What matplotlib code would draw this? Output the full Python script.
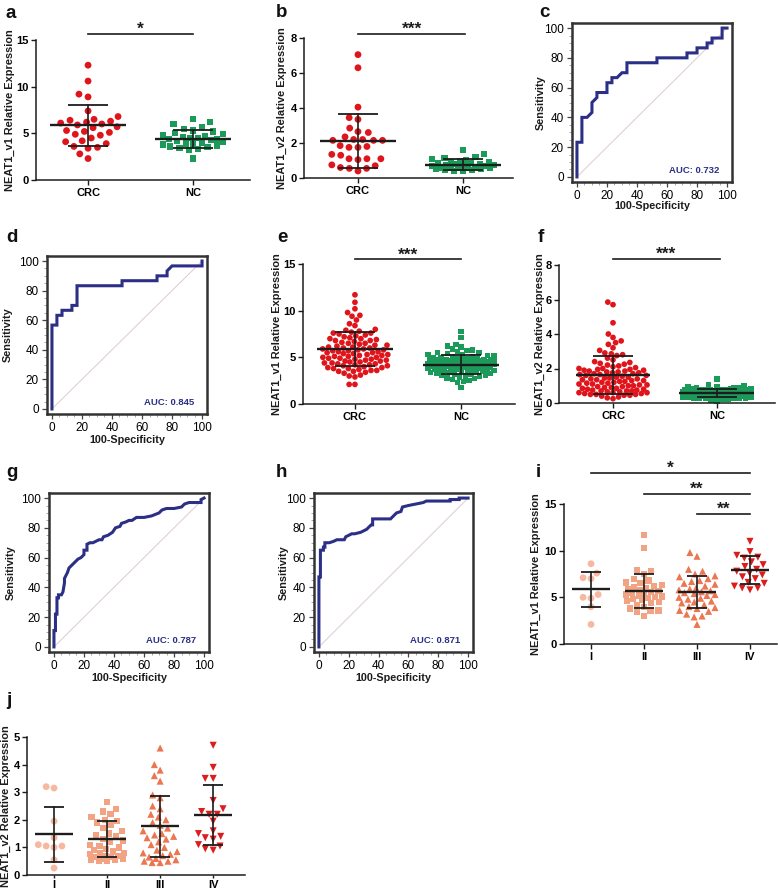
import matplotlib
matplotlib.use('Agg')
import matplotlib.pyplot as plt
import numpy as np
from matplotlib.ticker import MultipleLocator

plt.rcParams['font.family'] = ['Liberation Sans', 'DejaVu Sans']

# ---------------- data ----------------
cats_2 = ['CRC', 'NC']
cats_4 = ['I', 'II', 'III', 'IV']

a_crc = [12.3, 10.6, 9.2, 8.9, 7.4, 6.8, 6.5, 6.4, 6.3, 6.2, 6.1, 6.0, 5.9, 5.7, 5.6,
         5.3, 5.2, 5.1, 4.9, 4.8, 4.5, 4.2, 4.1, 3.9, 3.6, 3.5, 3.4, 2.8, 2.3]
a_nc = [6.5, 6.2, 6.0, 5.7, 5.5, 5.3, 5.2, 5.0, 4.9, 4.8, 4.7, 4.6, 4.5, 4.5, 4.4,
        4.4, 4.3, 4.2, 4.1, 4.0, 3.9, 3.9, 3.8, 3.7, 3.6, 3.5, 3.4, 3.3, 3.2, 2.3]
a_mean = [5.85, 4.42]
a_sd = [2.2, 0.96]

b_crc = [7.05, 6.3, 4.05, 3.45, 3.35, 2.85, 2.65, 2.6, 2.35, 2.2, 2.2, 2.15, 2.15, 2.15,
         1.85, 1.8, 1.75, 1.75, 1.35, 1.3, 1.1, 1.1, 1.1, 1.05, 0.75, 0.7, 0.6, 0.55, 0.55, 0.4]
b_nc = [1.6, 1.35, 1.2, 1.15, 1.1, 1.0, 0.95, 0.9, 0.9, 0.85, 0.85, 0.8, 0.8, 0.75, 0.75,
        0.7, 0.7, 0.7, 0.65, 0.6, 0.6, 0.6, 0.55, 0.55, 0.5, 0.5, 0.45, 0.45, 0.4, 0.4]
b_mean = [2.12, 0.77]
b_sd = [1.55, 0.3]

e_crc = [11.7, 10.9, 10.2, 9.8, 9.5, 9.4, 9.0, 8.6, 8.4, 8.0, 7.9, 7.8, 7.7, 7.6, 7.6,
         7.5, 7.4, 7.3, 7.2, 7.1, 7.0, 7.0, 6.9, 6.8, 6.8, 6.7, 6.6, 6.5, 6.5, 6.4, 6.3,
         6.3, 6.2, 6.1, 6.1, 6.0, 6.0, 5.9, 5.9, 5.8, 5.8, 5.7, 5.7, 5.6, 5.6, 5.5, 5.5,
         5.4, 5.4, 5.3, 5.3, 5.2, 5.2, 5.1, 5.1, 5.0, 5.0, 4.9, 4.9, 4.8, 4.8, 4.7, 4.7,
         4.6, 4.6, 4.5, 4.5, 4.4, 4.4, 4.3, 4.3, 4.2, 4.2, 4.1, 4.1, 4.0, 3.9, 3.9, 3.8,
         3.8, 3.7, 3.6, 3.6, 3.5, 3.5, 3.4, 3.3, 3.1, 3.0, 2.9, 2.1, 2.1]
e_nc = [7.8, 7.1, 6.4, 6.2, 6.1, 5.9, 5.8, 5.7, 5.6, 5.5, 5.5, 5.4, 5.3, 5.3, 5.2, 5.2,
        5.1, 5.1, 5.0, 5.0, 4.9, 4.9, 4.9, 4.8, 4.8, 4.8, 4.7, 4.7, 4.7, 4.6, 4.6, 4.6,
        4.6, 4.5, 4.5, 4.5, 4.5, 4.4, 4.4, 4.4, 4.3, 4.3, 4.3, 4.3, 4.3, 4.2, 4.2, 4.2,
        4.2, 4.1, 4.1, 4.1, 4.1, 4.0, 4.0, 4.0, 4.0, 3.9, 3.9, 3.9, 3.9, 3.8, 3.8, 3.8,
        3.7, 3.7, 3.7, 3.7, 3.6, 3.6, 3.6, 3.6, 3.5, 3.5, 3.5, 3.4, 3.4, 3.3, 3.3, 3.2,
        3.2, 3.1, 3.1, 3.0, 3.0, 2.9, 2.8, 2.7, 2.6, 2.5, 2.4, 2.3, 1.8]
e_mean = [5.87, 4.22]
e_sd = [1.8, 1.05]

f_crc = [5.85, 5.7, 4.65, 4.0, 3.8, 3.6, 3.5, 3.4, 3.2, 3.05, 2.9, 2.85, 2.8, 2.75, 2.6,
         2.5, 2.4, 2.35, 2.3, 2.25, 2.2, 2.15, 2.1, 2.05, 2.0, 2.0, 1.95, 1.95, 1.9, 1.9,
         1.85, 1.85, 1.8, 1.8, 1.75, 1.75, 1.7, 1.7, 1.65, 1.65, 1.6, 1.6, 1.55, 1.5, 1.5,
         1.45, 1.45, 1.4, 1.4, 1.35, 1.35, 1.3, 1.3, 1.25, 1.25, 1.2, 1.2, 1.15, 1.15, 1.1,
         1.1, 1.05, 1.05, 1.0, 1.0, 0.95, 0.95, 0.9, 0.9, 0.85, 0.85, 0.8, 0.8, 0.75, 0.75,
         0.7, 0.7, 0.7, 0.65, 0.65, 0.6, 0.6, 0.6, 0.55, 0.55, 0.5, 0.5, 0.5, 0.45, 0.45,
         0.4, 0.35, 0.3, 0.25]
f_nc = [1.4, 1.05, 1.0, 0.95, 0.92, 0.9, 0.9, 0.88, 0.85, 0.85, 0.82, 0.8, 0.8, 0.8, 0.78,
        0.75, 0.75, 0.75, 0.73, 0.72, 0.7, 0.7, 0.7, 0.7, 0.68, 0.67, 0.66, 0.65, 0.65, 0.65,
        0.65, 0.64, 0.63, 0.62, 0.62, 0.6, 0.6, 0.6, 0.6, 0.6, 0.58, 0.58, 0.57, 0.56, 0.55,
        0.55, 0.55, 0.55, 0.55, 0.53, 0.52, 0.52, 0.5, 0.5, 0.5, 0.5, 0.5, 0.48, 0.48, 0.47,
        0.45, 0.45, 0.45, 0.45, 0.44, 0.43, 0.42, 0.4, 0.4, 0.4, 0.4, 0.38, 0.37, 0.35, 0.35,
        0.35, 0.33, 0.3, 0.3, 0.3, 0.28, 0.25, 0.25, 0.2, 0.2, 0.15, 0.1]
f_mean = [1.64, 0.58]
f_sd = [1.1, 0.22]

i_g1 = [8.6, 7.6, 7.1, 7.0, 5.3, 5.0, 4.9, 4.0, 2.1]
i_g2 = [11.7, 10.3, 7.9, 7.8, 7.5, 7.0, 6.8, 6.6, 6.5, 6.3, 6.2, 6.1, 6.0, 5.9, 5.8, 5.7,
        5.6, 5.5, 5.4, 5.3, 5.2, 5.1, 5.0, 4.9, 4.8, 4.7, 4.6, 4.5, 4.4, 4.2, 4.0, 3.8,
        3.6, 3.5, 3.4, 3.0]
i_g3 = [9.8, 9.4, 8.0, 7.8, 7.5, 7.3, 7.2, 7.0, 6.8, 6.7, 6.5, 6.4, 6.2, 6.0, 5.9, 5.8,
        5.7, 5.6, 5.5, 5.4, 5.3, 5.2, 5.0, 4.9, 4.8, 4.6, 4.5, 4.4, 4.2, 4.0, 3.9, 3.8,
        3.6, 3.5, 3.2, 3.0, 2.9, 2.1]
i_g4 = [11.0, 9.9, 9.5, 9.3, 9.2, 8.8, 8.5, 8.3, 8.0, 7.8, 7.6, 7.4, 7.2, 7.0, 6.6,
        6.5, 6.2, 6.0, 6.0, 5.8]
i_mean = [5.87, 5.69, 5.55, 7.95]
i_sd = [1.88, 1.8, 1.7, 1.47]

j_g1 = [3.2, 3.15, 1.95, 1.35, 1.1, 1.05, 1.05, 1.0, 0.55, 0.25]
j_g2 = [2.65, 2.4, 2.3, 2.2, 2.1, 2.0, 1.95, 1.9, 1.8, 1.7, 1.6, 1.5, 1.45, 1.4, 1.3,
        1.25, 1.2, 1.1, 1.05, 1.0, 0.95, 0.9, 0.85, 0.8, 0.8, 0.75, 0.7, 0.7, 0.65, 0.65,
        0.6, 0.6, 0.55, 0.55, 0.5, 0.5]
j_g3 = [4.6, 4.0, 3.8, 3.6, 3.4, 2.9, 2.8, 2.5, 2.4, 2.2, 2.1, 2.0, 1.9, 1.8, 1.7, 1.6,
        1.5, 1.45, 1.4, 1.35, 1.3, 1.2, 1.1, 1.0, 0.9, 0.85, 0.8, 0.75, 0.7, 0.65, 0.6,
        0.55, 0.5, 0.5, 0.45, 0.45]
j_g4 = [4.7, 3.9, 3.5, 3.5, 2.7, 2.4, 2.3, 2.2, 2.2, 1.95, 1.6, 1.5, 1.4, 1.35, 1.3,
        1.1, 1.05, 0.95, 0.9]
j_mean = [1.48, 1.31, 1.76, 2.17]
j_sd = [1.0, 0.64, 1.12, 1.1]

c_fpr = [0, 0, 3.3, 3.3, 6.7, 10, 10, 13.3, 13.3, 20, 20, 23.3, 23.3, 26.7, 30, 33.3, 33.3,
         53.3, 53.3, 73.3, 73.3, 80, 80, 86.7, 86.7, 90, 90, 96.7, 96.7, 100]
c_tpr = [0, 23.3, 23.3, 40, 40, 43.3, 50, 53.3, 56.7, 56.7, 63.3, 63.3, 66.7, 66.7, 70, 70,
         76.7, 76.7, 80, 80, 83.3, 83.3, 86.7, 86.7, 90, 90, 93.3, 93.3, 100, 100]
d_fpr = [0, 0, 3.3, 3.3, 6.7, 6.7, 13.3, 13.3, 16.7, 16.7, 46.7, 46.7, 70, 70, 76.7, 76.7,
         80, 100, 100]
d_tpr = [0, 56.7, 56.7, 63.3, 63.3, 66.7, 66.7, 70, 70, 83.3, 83.3, 86.7, 86.7, 90, 90,
         93.3, 96.7, 96.7, 100]
g_fpr = [0, 0, 1, 1, 2, 2, 3, 3, 5, 6, 7, 7, 8, 9, 10, 12, 14, 16, 18, 20, 20, 22, 22, 24,
         26, 28, 30, 32, 33, 36, 39, 41, 44, 45, 48, 50, 52, 55, 60, 65, 70, 72, 75, 80,
         85, 87, 90, 98, 98, 100]
g_tpr = [0, 11, 11, 22, 22, 33, 33, 35, 35, 37, 43, 46, 48, 50, 53, 55, 57, 59, 60, 62, 65,
         65, 69, 70, 70, 71, 72, 72, 74, 75, 77, 80, 81, 83, 84, 85, 85, 87, 87, 88, 90,
         92, 93, 93, 94, 96, 97, 97, 99, 100]
h_fpr = [0, 0, 1, 1, 3, 3, 4, 4, 7, 10, 12, 17, 18, 20, 22, 24, 28, 30, 32, 33, 35, 36, 36,
         48, 50, 52, 55, 56, 60, 65, 70, 72, 88, 88, 94, 94, 100]
h_tpr = [0, 47, 47, 65, 65, 67, 67, 70, 70, 71, 72, 72, 74, 75, 76, 76, 77, 78, 79, 80, 82,
         82, 86, 86, 88, 90, 91, 94, 95, 96, 97, 98, 98, 99, 99, 100, 100]
auc_labels = ['AUC: 0.732', 'AUC: 0.845', 'AUC: 0.787', 'AUC: 0.871']

# ---------------- figure ----------------
W, H = 778, 892
fig = plt.figure(figsize=(W / 100, H / 100), dpi=100)


def rect(L, T, R, B):
    return [L / W, 1 - B / H, (R - L) / W, (B - T) / H]


def capped_swarm(vals_px, d, maxw):
    """Beeswarm offsets (pixels) limited to a band of width maxw."""
    vals_px = np.asarray(vals_px, dtype=float)
    half = maxw / 2.0
    grid = np.linspace(-half, half, 41)
    order = np.argsort(vals_px)
    px, py = [], []
    xs = np.zeros(len(vals_px))
    for i in order:
        y = vals_px[i]
        pxa, pya = np.array(px), np.array(py)
        cands = [0.0]
        for xj, yj in zip(px, py):
            dy = abs(y - yj)
            if dy < d:
                dx = np.sqrt(d * d - dy * dy)
                cands += [xj - dx, xj + dx]
        cands = sorted([c for c in cands if abs(c) <= half + 1e-9],
                       key=lambda c: (abs(c), c))
        chosen = None
        for c in cands:
            if len(px) == 0 or np.all((c - pxa) ** 2 + (y - pya) ** 2 >= d * d - 1e-6):
                chosen = c
                break
        if chosen is None:
            mind = np.array([np.min((g - pxa) ** 2 + (y - pya) ** 2) for g in grid])
            score = mind - 1e-3 * np.abs(grid)
            chosen = grid[int(np.argmax(score))]
        xs[i] = chosen
        px.append(chosen)
        py.append(y)
    return xs


INK = '#1c1c1c'


def scatter_panel(box, xlim, ymax, ystep, groups, cats, markers, colors, sizes,
                  means, sds, ylabel, ylab_px, d_px, maxw_px, sigs,
                  xtick_len=3.5, xpad=2):
    L, T, R, B = box
    ax = fig.add_axes(rect(L, T, R, B))
    ax.set_xlim(*xlim)
    ax.set_ylim(0, ymax)
    ppx = (R - L) / (xlim[1] - xlim[0])
    ppy = (B - T) / ymax
    for k, vals in enumerate(groups):
        v = np.array(vals, dtype=float)
        off = capped_swarm(v * ppy, d_px, maxw_px) / ppx
        ax.scatter(k + off, v, marker=markers[k], s=sizes[k], color=colors[k],
                   edgecolors='none', zorder=2, clip_on=False)
        m, s = means[k], sds[k]
        ax.plot([k - 0.36, k + 0.36], [m, m], color=INK, lw=1.7, zorder=3,
                solid_capstyle='butt')
        ax.plot([k, k], [m - s, m + s], color=INK, lw=1.2, zorder=3)
        for yy in (m - s, m + s):
            ax.plot([k - 0.19, k + 0.19], [yy, yy], color=INK, lw=1.3, zorder=3,
                    solid_capstyle='butt')
    for (x0, x1, yv, txt) in sigs:
        ax.plot([x0, x1], [yv, yv], color=INK, lw=1.2, clip_on=False)
        ax.text((x0 + x1) / 2, yv, txt, ha='center', va='baseline', fontsize=12.5,
                fontweight='bold', color=INK)
    for sp in ('top', 'right'):
        ax.spines[sp].set_visible(False)
    for sp in ('left', 'bottom'):
        ax.spines[sp].set_linewidth(1.1)
        ax.spines[sp].set_color(INK)
    ticks = np.arange(0, ymax + 0.001, ystep)
    ax.set_yticks(ticks)
    ax.set_yticklabels([f'{t:g}' for t in ticks])
    ax.set_xticks(range(len(cats)))
    ax.set_xticklabels(cats)
    ax.tick_params(axis='y', direction='out', length=3.5, width=1.0, color=INK,
                   labelsize=8, pad=1.5)
    ax.tick_params(axis='x', direction='out', length=xtick_len, width=1.0, color=INK,
                   labelsize=8, pad=xpad)
    for lab in ax.get_xticklabels() + ax.get_yticklabels():
        lab.set_fontweight('bold')
    ax.set_ylabel(ylabel, fontsize=7.9, fontweight='bold', color=INK)
    ax.yaxis.set_label_coords((ylab_px - L) / (R - L), 0.5)
    return ax


def roc_panel(box, fx, fy, auc, ylab_px, xlab_top_px):
    L, T, R, B = box
    ax = fig.add_axes(rect(L, T, R, B))
    ax.plot([0, 100], [0, 100], color='#dccad3', lw=0.7, zorder=1)
    ax.plot(fx, fy, color='#2b2f86', lw=2.2, zorder=3, clip_on=False,
            solid_joinstyle='miter')
    ax.set_xlim(-3.3, 103.3)
    ax.set_ylim(-3.4, 103.4)
    for sp in ax.spines.values():
        sp.set_linewidth(1.8)
        sp.set_color('#333333')
    ax.xaxis.set_major_locator(MultipleLocator(20))
    ax.yaxis.set_major_locator(MultipleLocator(20))
    ax.xaxis.set_minor_locator(MultipleLocator(5))
    ax.yaxis.set_minor_locator(MultipleLocator(5))
    ax.tick_params(which='major', direction='out', length=3.5, width=0.9,
                   color='#444444', labelsize=8.5, pad=2.5)
    ax.tick_params(which='minor', direction='out', length=2, width=0.6, color='#999999')
    ax.text(95, 4.5, auc, ha='right', va='center', color='#2b2f86', fontsize=6.8,
            fontweight='bold')
    ax.set_xlabel('100-Specificity', fontsize=7.8, fontweight='bold', color=INK)
    ax.set_ylabel('Sensitivity', fontsize=7.8, fontweight='bold', color=INK)
    ax.xaxis.set_label_coords(0.5, -(xlab_top_px - B) / (B - T))
    ax.yaxis.set_label_coords((ylab_px - L) / (R - L), 0.5)
    return ax


RED, GREEN = '#e0151c', '#1b9a5a'
STAGE_COLS = ['#f6b8a0', '#f2a383', '#eb7652', '#dc1d1d']
STAGE_MK = ['o', 's', '^', 'v']

# a
scatter_panel((36, 40, 250, 180), (-0.495, 1.54), 15, 5, [a_crc, a_nc], cats_2,
              ['o', 's'], [RED, GREEN], [24, 20], a_mean, a_sd,
              'NEAT1_v1 Relative Expression', 15, 9.5, 60, [(0, 1.0, 15.64, '*')])
# b
scatter_panel((304, 38, 513, 178), (-0.514, 1.476), 8, 2, [b_crc, b_nc], cats_2,
              ['o', 's'], [RED, GREEN], [24, 20], b_mean, b_sd,
              'NEAT1_v2 Relative Expression', 287, 9.0, 62, [(0, 1.02, 8.23, '***')])
# c
roc_panel((572, 23, 732, 182), c_fpr, c_tpr, auc_labels[0], 546, 201)
# d
roc_panel((47, 256, 207, 414), d_fpr, d_tpr, auc_labels[1], 13, 435)
# e
scatter_panel((303, 264, 515, 404), (-0.49, 1.51), 15, 5, [e_crc, e_nc], cats_2,
              ['o', 's'], [RED, GREEN], [17, 15], e_mean, e_sd,
              'NEAT1_v1 Relative Expression', 282, 5.8, 66, [(0, 1.0, 15.5, '***')])
# f
scatter_panel((559, 265, 775, 403), (-0.52, 1.56), 8, 2, [f_crc, f_nc], cats_2,
              ['o', 's'], [RED, GREEN], [17, 15], f_mean, f_sd,
              'NEAT1_v2 Relative Expression', 545, 5.8, 68, [(0, 1.03, 8.35, '***')])
# g
roc_panel((49, 493, 209, 652), g_fpr, g_tpr, auc_labels[2], 16, 673)
# h
roc_panel((314, 493, 473, 652), h_fpr, h_tpr, auc_labels[3], 289, 673)
# i
scatter_panel((564, 504, 777, 644), (-0.51, 3.51), 15, 5, [i_g1, i_g2, i_g3, i_g4],
              cats_4, STAGE_MK, STAGE_COLS, [24, 20, 26, 26], i_mean, i_sd,
              'NEAT1_v1 Relative Expression', 541, 8.0, 36,
              [(0, 3, 18.3, '*'), (1, 3, 16.07, '**'), (2, 3, 13.93, '**')])
# j
scatter_panel((27, 737, 245, 875), (-0.51, 3.6), 5, 1, [j_g1, j_g2, j_g3, j_g4],
              cats_4, STAGE_MK, STAGE_COLS, [24, 20, 26, 26], j_mean, j_sd,
              'NEAT1_v2 Relative Expression', 11, 8.0, 34, [],
              xtick_len=2.5, xpad=1)

# panel letters
letters = ['a', 'b', 'c', 'd', 'e', 'f', 'g', 'h', 'i', 'j']
letter_px = [(6, 18), (276, 17), (539, 17), (6, 242), (277, 242), (538, 242),
             (6, 477), (276, 477), (536, 477), (6, 705)]
for lt, (x, y) in zip(letters, letter_px):
    fig.text(x / W, 1 - y / H, lt, fontsize=13.5, fontweight='bold', ha='left',
             va='baseline', color='#111111')

fig.savefig('out.png', dpi=100)
